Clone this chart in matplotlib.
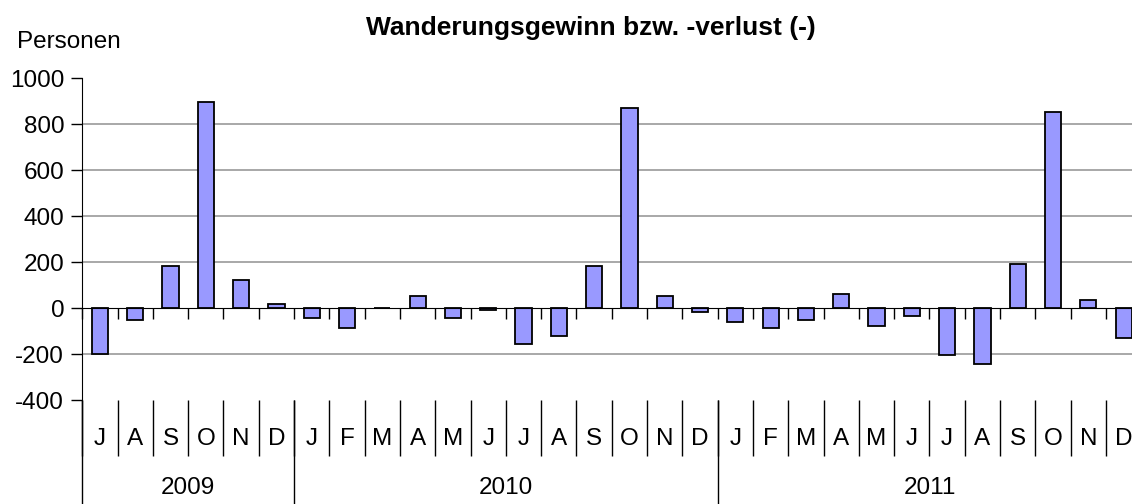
import matplotlib.pyplot as plt
import numpy as np

plt.rcParams['font.family'] = ['Liberation Sans', 'DejaVu Sans']
plt.rcParams['axes.unicode_minus'] = False

# Monthly migration balance, Jul 2009 - Dec 2011
months = ['J', 'A', 'S', 'O', 'N', 'D',
          'J', 'F', 'M', 'A', 'M', 'J', 'J', 'A', 'S', 'O', 'N', 'D',
          'J', 'F', 'M', 'A', 'M', 'J', 'J', 'A', 'S', 'O', 'N', 'D']
years = ['2009', '2010', '2011']
months_per_year = [6, 12, 12]
values = [-200, -52, 181, 894, 122, 17,
          -43, -87, 0, 53, -45, -10, -158, -123, 181, 868, 53, -17,
          -62, -87, -54, 61, -80, -36, -203, -245, 191, 853, 36, -132]


def main():
    fig = plt.figure(figsize=(11.32, 5.04), dpi=100)
    ax = fig.add_axes([0.0727, 0.2063, 0.9355, 0.6389])

    x = np.arange(len(values))
    ax.bar(x, values, width=0.46, color='#9999ff', edgecolor='black',
           linewidth=1.3, zorder=3)

    ax.set_xlim(-0.5, len(values) - 0.5)
    ax.set_ylim(-400, 1000)
    ax.set_yticks(np.arange(-400, 1001, 200))
    ax.tick_params(axis='y', direction='out', length=8, width=1,
                   labelsize=17.5, pad=5)
    for v in [-200, 200, 400, 600, 800]:
        ax.axhline(v, color='#999999', linewidth=1.2, zorder=1)

    # category axis line sits at zero, ticks at category boundaries
    ax.spines['bottom'].set_position(('data', 0))
    ax.spines['bottom'].set_zorder(4)
    ax.spines['top'].set_visible(False)
    ax.spines['right'].set_visible(False)
    bounds = np.arange(len(values) + 1) - 0.5
    ax.set_xticks(bounds)
    ax.set_xticklabels([])
    ax.tick_params(axis='x', direction='out', length=8, width=1)

    # two-level labels below the plot
    trans = ax.get_xaxis_transform()
    ax.vlines(bounds, -0.174, 0, transform=trans, color='black',
              linewidth=1, clip_on=False)
    for i, m in enumerate(months):
        ax.text(i, -0.122, m, transform=trans, ha='center', va='center',
                fontsize=17.5)
    year_edges = np.concatenate([[0], np.cumsum(months_per_year)]) - 0.5
    ax.vlines(year_edges, -0.33, 0, transform=trans, color='black',
              linewidth=1, clip_on=False)
    for k, y in enumerate(years):
        mid = (year_edges[k] + year_edges[k + 1]) / 2
        ax.text(mid, -0.272, y, transform=trans, ha='center', va='center',
                fontsize=17.5)

    fig.text(0.522, 0.945, 'Wanderungsgewinn bzw. -verlust (-)',
             ha='center', va='center', fontsize=19, fontweight='bold')
    fig.text(0.015, 0.904, 'Personen', ha='left', va='baseline',
             fontsize=17.5)

    fig.savefig('out.png', dpi=100)
    plt.close(fig)


if __name__ == '__main__':
    main()
